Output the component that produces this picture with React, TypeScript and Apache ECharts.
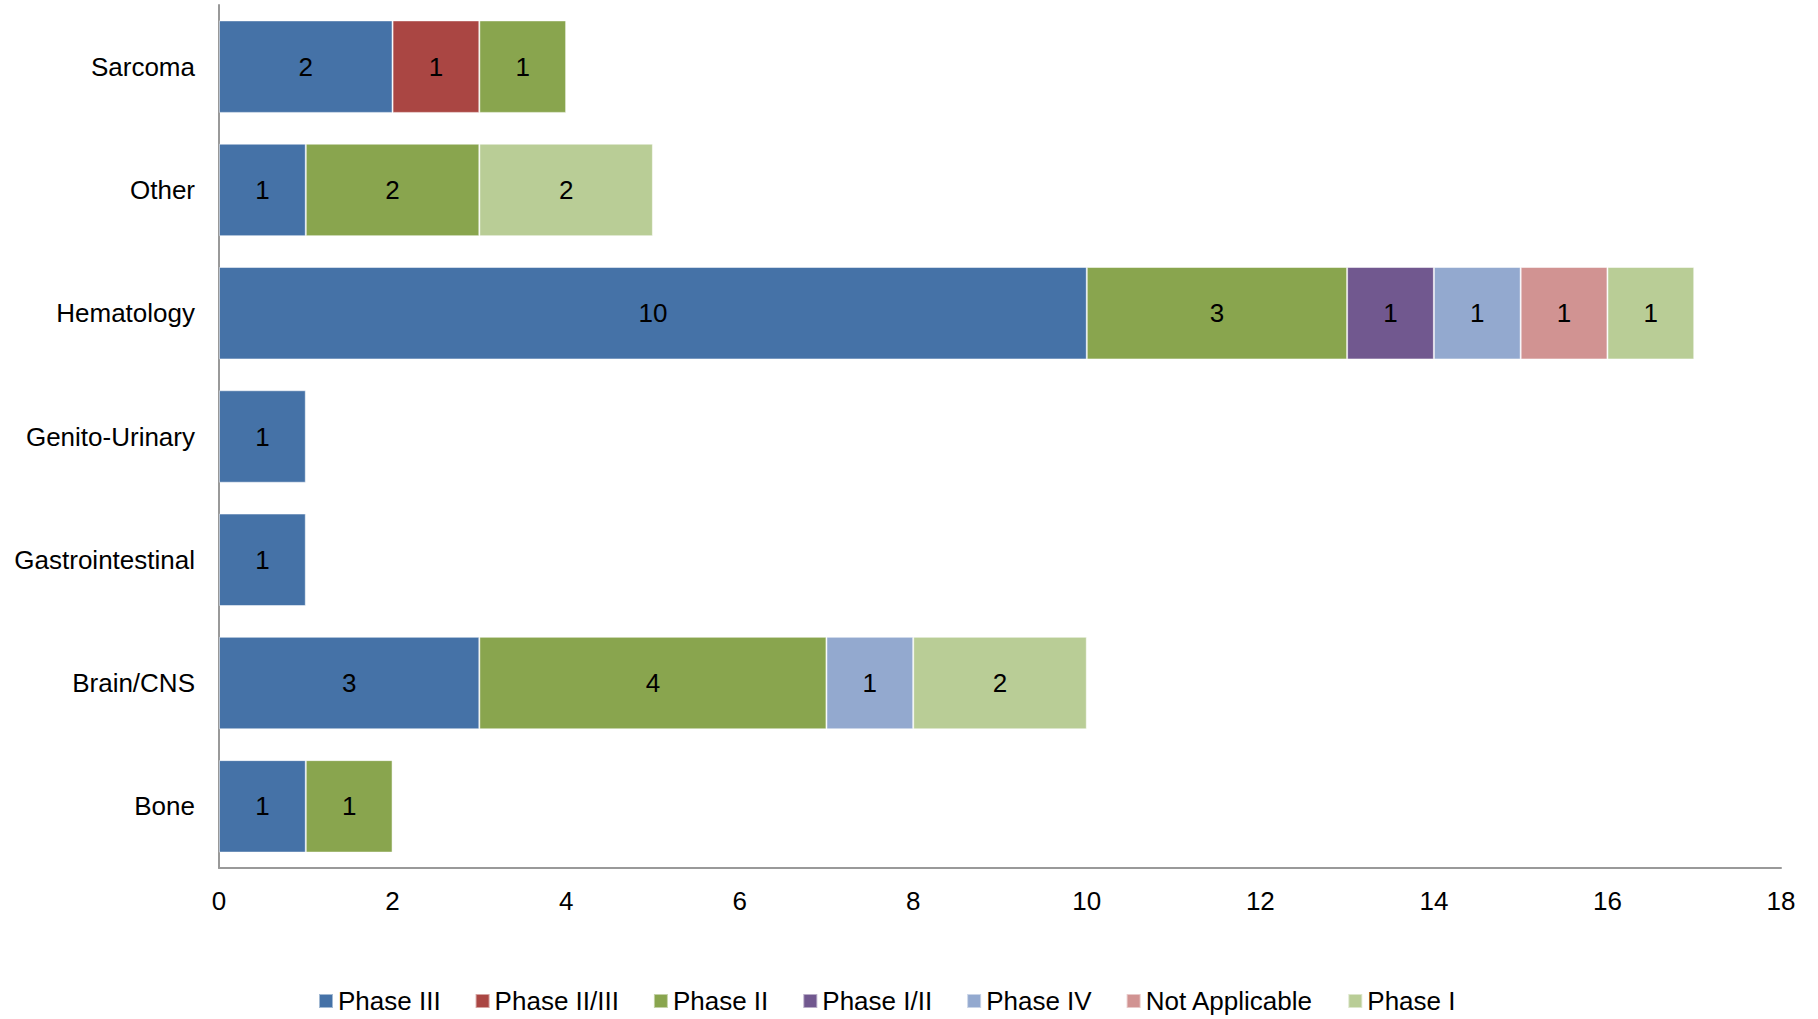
import React, { useEffect, useRef } from "react";
import * as echarts from "echarts";

const categories = ["Bone", "Brain/CNS", "Gastrointestinal", "Genito-Urinary", "Hematology", "Other", "Sarcoma"];
const seriesNames = ["Phase III", "Phase II/III", "Phase II", "Phase I/II", "Phase IV", "Not Applicable", "Phase I"];
const phaseIII = [1, 3, 1, 1, 10, 1, 2];
const phaseIIIII = [null, null, null, null, null, null, 1];
const phaseII = [1, 4, null, null, 3, 2, 1];
const phaseIII_I = [null, null, null, null, 1, null, null];
const phaseIV = [null, 1, null, null, 1, null, null];
const notApplicable = [null, null, null, null, 1, null, null];
const phaseI = [null, 2, null, null, 1, 2, null];
const seriesData = [phaseIII, phaseIIIII, phaseII, phaseIII_I, phaseIV, notApplicable, phaseI];
const colors = ["#4572A7", "#AA4643", "#89A54E", "#71588F", "#93A9CF", "#D19392", "#B9CD96"];
const xTicks = { min: 0, max: 18, interval: 2 };

const FONT = "'Liberation Sans', Arial, sans-serif";

export default function App() {
  const ref = useRef<HTMLDivElement>(null);
  useEffect(() => {
    if (!ref.current) return;
    const chart = echarts.init(ref.current, undefined, { renderer: "svg" });
    chart.setOption({
      animation: false,
      color: colors,
      textStyle: { fontFamily: FONT },
      grid: { left: 219, right: 37, top: 5, bottom: 151, containLabel: false },
      legend: {
        left: 318,
        top: 988,
        padding: 0,
        itemWidth: 14,
        itemHeight: 14,
        itemGap: 34,
        icon: "rect",
        textStyle: { fontSize: 26, color: "#000", fontFamily: FONT },
        data: seriesNames,
      },
      xAxis: {
        type: "value",
        min: xTicks.min,
        max: xTicks.max,
        interval: xTicks.interval,
        splitLine: { show: false },
        axisLine: { show: true, lineStyle: { color: "#999", width: 2 } },
        axisTick: { show: false },
        axisLabel: { fontSize: 26, color: "#000", margin: 20, fontFamily: FONT },
      },
      yAxis: {
        type: "category",
        data: categories,
        axisLine: { show: true, lineStyle: { color: "#999", width: 2 } },
        axisTick: { show: false },
        axisLabel: { fontSize: 26, color: "#000", margin: 24, fontFamily: FONT },
      },
      series: seriesNames.map((name, i) => ({
        name,
        type: "bar",
        stack: "total",
        barCategoryGap: "25%",
        data: seriesData[i],
        itemStyle: { color: colors[i], borderColor: "rgba(255,255,255,0.5)", borderWidth: 1 },
        label: {
          show: true,
          position: "inside",
          color: "#000",
          fontSize: 26,
          fontFamily: FONT,
        },
      })),
    });
    return () => chart.dispose();
  }, []);
  return (
    <div
      ref={ref}
      style={{ position: "absolute", left: 0, top: 0, width: 1818, height: 1019 }}
    />
  );
}
